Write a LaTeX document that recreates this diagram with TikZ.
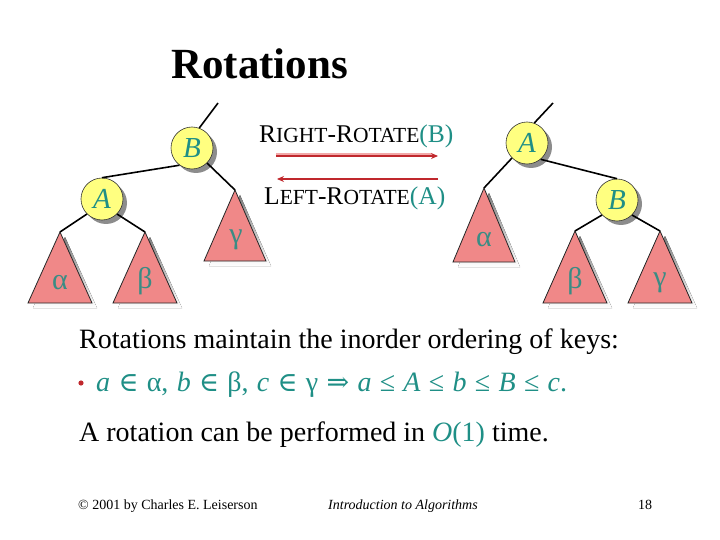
\documentclass[tikz,border=0pt]{standalone}
\usepackage{fontspec}
\setmainfont{Liberation Serif}
\newfontfamily\symfont{DejaVu Serif}
\usetikzlibrary{arrows.meta}
\definecolor{teal1}{HTML}{1F8F86}
\definecolor{teal2}{HTML}{3A8C84}
\definecolor{nodey}{HTML}{FFFF80}
\definecolor{trip}{HTML}{F08888}
\definecolor{shade}{HTML}{8C8C8C}
\definecolor{arrred}{HTML}{C0282D}
\definecolor{arrpink}{HTML}{F2A8A8}
\tikzset{
  keynode/.style={circle, draw=black!80, line width=0.6pt, fill=nodey, minimum size=42pt, inner sep=0pt,
    font=\fontsize{29}{30}\selectfont\itshape, text=teal1},
  keyshadow/.style={circle, fill=shade, minimum size=42pt, inner sep=0pt},
  treeedge/.style={line width=1.6pt, black},
  sublabel/.style={font=\fontsize{30}{32}\selectfont, text=teal2},
  rotarrow/.style={line width=1.6pt, arrred, -{Stealth[length=7pt,width=6pt]}},
  rotshadow/.style={line width=1.6pt, arrpink},
  bodytext/.style={anchor=base west, inner sep=0pt, font=\fontsize{28}{30}\selectfont},
  foot/.style={anchor=base west, inner sep=0pt, font=\fontsize{14}{16}\selectfont}
}
\newcommand{\subtree}[4]{% apex x, apex y, half width, bottom y
  \fill[shade] (#1+5,#2+5) -- (#1-#3+5,#4+5) -- (#1+#3+5,#4+5) -- cycle;
  \filldraw[fill=trip, draw=black!85, line width=0.8pt] (#1,#2) -- (#1-#3,#4) -- (#1+#3,#4) -- cycle;
}
\newcommand{\sm}[1]{{\fontsize{21.5}{24}\selectfont #1}}
\newcommand{\sy}[1]{{\symfont\fontsize{27}{28}\selectfont #1}}
\begin{document}
\begin{tikzpicture}[x=1pt,y=-1pt]
\useasboundingbox (0,0) rectangle (720,540);
\fill[white] (0,0) rectangle (720,540);

% title
\node[anchor=base west, inner sep=0pt, font=\fontsize{43}{46}\selectfont\bfseries] (title) at (171,79) {Rotations};

% ---------- left tree ----------
\subtree{60}{232}{32}{303}
\subtree{145}{232}{32}{303}
\subtree{235}{190}{31}{261}
\coordinate (la) at (60,232);
\coordinate (lb) at (145,232);
\coordinate (lc) at (235,190);
\node[sublabel] (lal) at (60,283) {α};
\node[sublabel] (lbl) at (145,281) {β};
\node[sublabel] (lcl) at (236,240) {γ};
\node[keyshadow] at (196,152) {};
\node[keyshadow] at (106,203) {};
\node[keynode] (LB) at (192,148) {B};
\node[keynode] (LA) at (102,199) {A};
\coordinate (ltop) at (218,103);
\draw[treeedge] (LB.70) -- (ltop);
\draw[treeedge] (LB.234) -- (LA.north);
\draw[treeedge] (LB.-45) -- (lc);
\draw[treeedge] (LA.225) -- (la);
\draw[treeedge] (LA.-45) -- (lb);

% ---------- right tree ----------
\subtree{484}{188}{31}{262}
\subtree{575}{231}{32}{303}
\subtree{660}{231}{32}{303}
\coordinate (ra) at (484,188);
\coordinate (rb) at (575,231);
\coordinate (rc) at (660,231);
\node[sublabel] (ral) at (484,240) {α};
\node[sublabel] (rbl) at (575,281) {β};
\node[sublabel] (rcl) at (660,283) {γ};
\node[keyshadow] at (531,147) {};
\node[keyshadow] at (621,204) {};
\node[keynode] (RA) at (527,143) {A};
\node[keynode] (RB) at (617,200) {B};
\coordinate (rtop) at (553,103);
\draw[treeedge] (RA.70) -- (rtop);
\draw[treeedge] (RA.-50) -- (RB.north);
\draw[treeedge] (RA.225) -- (ra);
\draw[treeedge] (RB.225) -- (rb);
\draw[treeedge] (RB.-45) -- (rc);

% ---------- rotation arrows ----------
\node[anchor=base west, inner sep=0pt, font=\fontsize{25.5}{28}\selectfont] (rr) at (259,143)
  {R\sm{IGHT}-R\sm{OTATE}\textcolor{teal1}{(B)}};
\node[anchor=base west, inner sep=0pt, font=\fontsize{25.5}{28}\selectfont] (lr) at (264,205)
  {L\sm{EFT}-R\sm{OTATE}\textcolor{teal1}{(A)}};
\coordinate (r1) at (276,156);
\coordinate (r2) at (438,156);
\coordinate (l1) at (438,179);
\coordinate (l2) at (277,179);
\draw[rotshadow] ([yshift=2pt]r1) -- ([yshift=2pt,xshift=-6pt]r2);
\draw[rotarrow] (r1) -- (r2);
\draw[rotarrow] (l1) -- (l2);

% ---------- body text ----------
\node[bodytext] (t1) at (79,348) {Rotations maintain the inorder ordering of keys:};
\fill[arrred] (81,383) circle (2.6);
\node[bodytext, text=teal1] (t2) at (96,391)
  {\spaceskip=8.3pt\relax \textit{a} \sy{∈} α, \textit{b} \sy{∈} β, \textit{c} \sy{∈} γ \sy{⇒} \textit{a} ≤ \textit{A} ≤ \textit{b} ≤ \textit{B} ≤ \textit{c}.};
\node[bodytext] (t3) at (79,441) {A rotation can be performed in \textcolor{teal1}{\textit{O}(1)} time.};

% ---------- footer ----------
\node[foot] (f1) at (78,509) {© 2001 by Charles E. Leiserson};
\node[foot, font=\fontsize{14}{16}\selectfont\itshape] (f2) at (328,509) {Introduction to Algorithms};
\node[foot] (f3) at (638,509) {18};
\end{tikzpicture}
\end{document}
